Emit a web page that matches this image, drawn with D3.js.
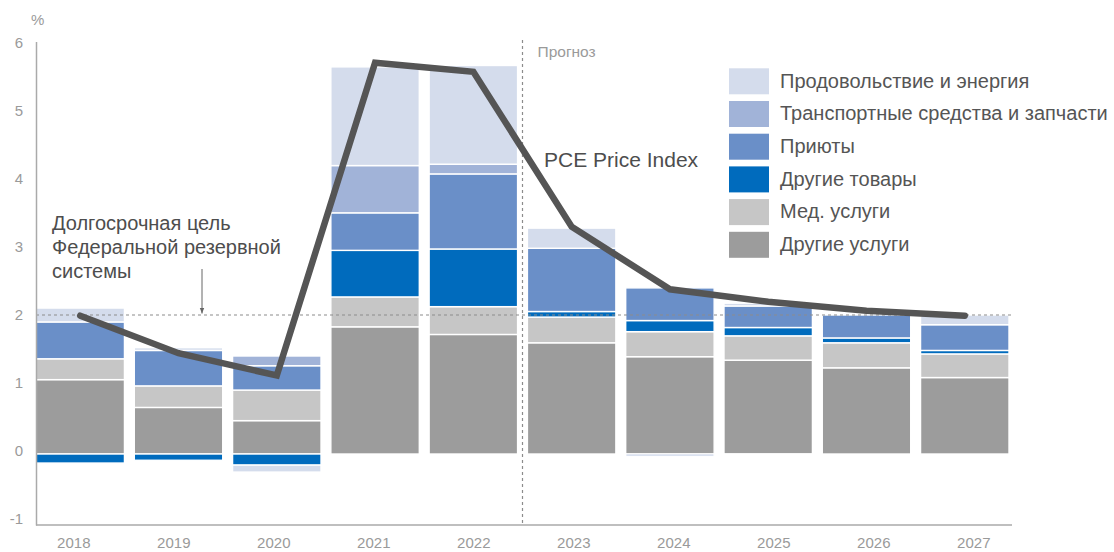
<!DOCTYPE html>
<html>
<head>
<meta charset="utf-8">
<script src="https://cdn.jsdelivr.net/npm/d3@7"></script>
<style>
  html, body { margin: 0; padding: 0; background: #fff; }
  svg { display: block; font-family: "Liberation Sans", Arial, sans-serif; }
</style>
</head>
<body>
<svg id="chart" width="1114" height="552"></svg>
<script>
// ---- data ----
const years = ["2018","2019","2020","2021","2022","2023","2024","2025","2026","2027"];
const foodEnergy    = [0.20, 0.04, -0.10, 1.42, 1.42, 0.29, 0.00, 0.04, 0.00, 0.14];
const vehicles      = [0.00, 0.00, 0.14, 0.68, 0.14, 0.00, -0.03, -0.02, 0.00, 0.00];
const shelter       = [0.53, 0.51, 0.35, 0.54, 1.08, 0.91, 0.47, 0.31, 0.33, 0.37];
const otherGoods    = [-0.13, -0.09, -0.16, 0.67, 0.83, 0.08, 0.16, 0.12, 0.07, 0.05];
const medical       = [0.30, 0.31, 0.44, 0.43, 0.40, 0.37, 0.36, 0.35, 0.36, 0.34];
const otherServices = [1.07, 0.67, 0.48, 1.83, 1.72, 1.60, 1.40, 1.35, 1.24, 1.10];
const pce           = [1.99, 1.45, 1.13, 5.63, 5.50, 3.27, 2.37, 2.19, 2.06, 1.99];
const yTicks = [-1, 0, 1, 2, 3, 4, 5, 6];
const targetValue = 2;
const forecastStart = "2023";

const seriesKeys = ["otherServices","medical","otherGoods","shelter","vehicles","foodEnergy"];
const seriesNames = {
  foodEnergy: "Продовольствие и энергия",
  vehicles: "Транспортные средства и запчасти",
  shelter: "Приюты",
  otherGoods: "Другие товары",
  medical: "Мед. услуги",
  otherServices: "Другие услуги"
};
const legendOrder = ["foodEnergy","vehicles","shelter","otherGoods","medical","otherServices"];
const colors = {
  foodEnergy: "#d4dcec",
  vehicles: "#a1b3d8",
  shelter: "#6a8fc8",
  otherGoods: "#006bbd",
  medical: "#c6c6c6",
  otherServices: "#9c9c9c"
};
const valuesByKey = { foodEnergy, vehicles, shelter, otherGoods, medical, otherServices };

const table = years.map((yr, i) => {
  const row = { year: yr };
  seriesKeys.forEach(k => row[k] = valuesByKey[k][i]);
  return row;
});

// ---- scales ----
const svg = d3.select("#chart");
const x = d3.scaleBand().domain(years).range([36, 1009]).paddingInner(0.1).paddingOuter(0);
const y = d3.scaleLinear().domain([-1, 6]).range([523.5, 37]);
// label scales (axis labels as placed in the original)
const xLab = d3.scalePoint().domain(years).range([73.3, 973.3]);
const yLab = d3.scaleLinear().domain([-1, 6]).range([518.3, 42.7]);

const stack = d3.stack().keys(seriesKeys).offset(d3.stackOffsetDiverging);
const stacked = stack(table);

// bars
svg.append("g").selectAll("g")
  .data(stacked).join("g")
  .attr("fill", d => colors[d.key])
  .selectAll("rect")
  .data(d => d.filter(p => p[1] !== p[0]))
  .join("rect")
  .attr("x", d => x(d.data.year))
  .attr("width", x.bandwidth())
  .attr("y", d => y(Math.max(d[0], d[1])))
  .attr("height", d => Math.abs(y(d[0]) - y(d[1])))
  .attr("stroke", "#fff")
  .attr("stroke-width", 1.4);

// target dotted line
svg.append("line")
  .attr("x1", 36).attr("x2", 1012)
  .attr("y1", y(targetValue)).attr("y2", y(targetValue))
  .attr("stroke", "#8c8c8c").attr("stroke-width", 1.2)
  .attr("stroke-dasharray", "3,3");

// forecast divider
const fx = x(forecastStart) - x.step() * x.paddingInner() / 2;
svg.append("line")
  .attr("x1", fx).attr("x2", fx)
  .attr("y1", 40).attr("y2", 525)
  .attr("stroke", "#8c8c8c").attr("stroke-width", 1.2)
  .attr("stroke-dasharray", "3,3");
svg.append("text")
  .attr("x", fx + 15).attr("y", 57.3)
  .attr("font-size", 15.5).attr("fill", "#9a9a9a")
  .text("Прогноз");

// axes lines
svg.append("line").attr("x1", 36.5).attr("x2", 36.5).attr("y1", 42).attr("y2", 525.5)
  .attr("stroke", "#aaa").attr("stroke-width", 1.5);
svg.append("line").attr("x1", 36).attr("x2", 1012).attr("y1", 525).attr("y2", 525)
  .attr("stroke", "#aaa").attr("stroke-width", 1.5);

// y axis labels
const gy = svg.append("g").attr("transform", "translate(23,0)")
  .call(d3.axisLeft(yLab).tickValues(yTicks).tickSize(0).tickPadding(0).tickFormat(d => String(d)));
gy.select(".domain").remove();
gy.selectAll("text").attr("font-size", 15).attr("fill", "#9a9a9a")
  .attr("font-family", "Liberation Sans, Arial, sans-serif");

svg.append("text").attr("x", 31).attr("y", 25).attr("font-size", 15).attr("fill", "#9a9a9a").text("%");

// x axis labels
const gx = svg.append("g").attr("transform", "translate(0,525)")
  .call(d3.axisBottom(xLab).tickSize(0).tickPadding(12));
gx.select(".domain").remove();
gx.selectAll("text").attr("font-size", 15).attr("fill", "#9a9a9a")
  .attr("font-family", "Liberation Sans, Arial, sans-serif");

// PCE line
const line = d3.line()
  .x((d, i) => x(years[i]) + x.bandwidth() / 2)
  .y(d => y(d));
svg.append("path")
  .datum(pce)
  .attr("d", line)
  .attr("fill", "none")
  .attr("stroke", "#555")
  .attr("stroke-width", 6.5)
  .attr("stroke-linecap", "round")
  .attr("stroke-linejoin", "miter");

svg.append("text").attr("x", 544).attr("y", 166.7)
  .attr("font-size", 21).attr("fill", "#4d4d4d").text("PCE Price Index");

// annotation
const ann = svg.append("text").attr("font-size", 20).attr("fill", "#4d4d4d");
["Долгосрочная цель", "Федеральной резервной", "системы"].forEach((t, i) => {
  ann.append("tspan").attr("x", 52).attr("y", 230 + i * 23.8).text(t);
});
svg.append("defs").append("marker")
  .attr("id", "arr").attr("viewBox", "0 0 10 10").attr("refX", 10).attr("refY", 5)
  .attr("markerWidth", 6).attr("markerHeight", 6).attr("orient", "auto")
  .append("path").attr("d", "M0,1 L10,5 L0,9 Z").attr("fill", "#666");
svg.append("line").attr("x1", 202).attr("x2", 202).attr("y1", 269).attr("y2", 313.5)
  .attr("stroke", "#666").attr("stroke-width", 1).attr("marker-end", "url(#arr)");

// legend
const lg = svg.append("g");
legendOrder.forEach((k, i) => {
  lg.append("rect").attr("x", 729).attr("y", 68.3 + i * 32.7)
    .attr("width", 40).attr("height", 26).attr("fill", colors[k]);
  lg.append("text").attr("x", 780).attr("y", 87.5 + i * 32.7)
    .attr("font-size", 20).attr("fill", "#555").text(seriesNames[k]);
});
</script>
</body>
</html>
